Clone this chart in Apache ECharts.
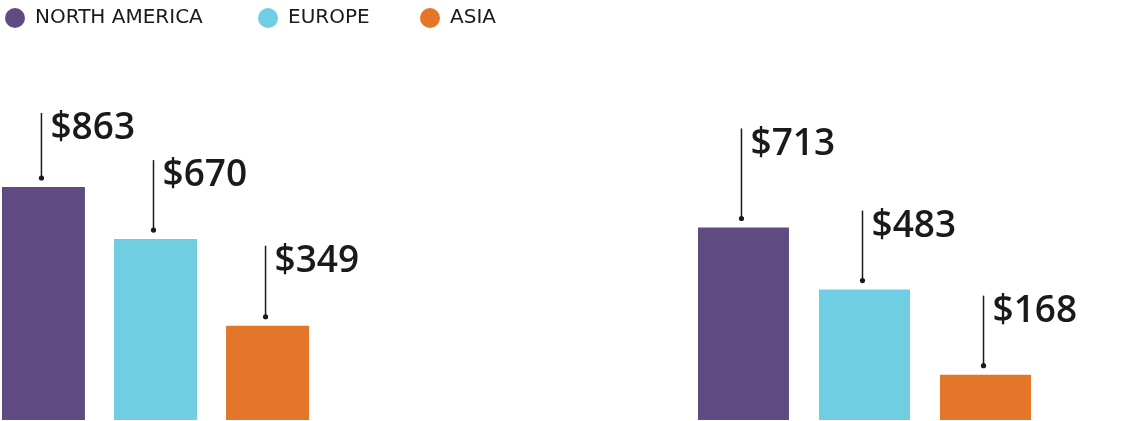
<!DOCTYPE html>
<html>
<head>
<meta charset="utf-8">
<script src="https://cdn.jsdelivr.net/npm/echarts@6/dist/echarts.min.js"></script>
<style>html,body{margin:0;padding:0;background:#fff;}#c{width:1147px;height:421px;}</style>
</head>
<body>
<div id="c"></div>
<script>
// ---- data ----
var regions = ['NORTH AMERICA', 'EUROPE', 'ASIA'];
var group1Values = [863, 670, 349];
var group2Values = [713, 483, 168];

// ---- style ----
var colors = ['#5f4b82', '#6fcee1', '#e37628'];
var ink = '#1a1a1a';
var groups = [
  { values: group1Values, left: 0, width: 311, barW: 83, gapPct: 35, leaders: [65, 70, 71] },
  { values: group2Values, left: 696, width: 337, barW: 91, gapPct: 33, leaders: [90, 70, 70] }
];

var chart = echarts.init(document.getElementById('c'), null, { renderer: 'canvas' });
var grid = [], xAxis = [], yAxis = [], series = [];
groups.forEach(function (g, gi) {
  grid.push({ left: g.left, width: g.width, top: 150, height: 270 });
  xAxis.push({ type: 'category', gridIndex: gi, data: ['g'], show: false });
  yAxis.push({ type: 'value', gridIndex: gi, min: 0, max: 1000, show: false });
  regions.forEach(function (r, ri) {
    series.push({
      type: 'bar', name: r, xAxisIndex: gi, yAxisIndex: gi,
      barWidth: g.barW, barGap: g.gapPct + '%',
      itemStyle: { color: colors[ri] },
      data: [g.values[ri]], animation: false, silent: true
    });
  });
  var step = g.barW * (1 + g.gapPct / 100);
  series.push({
    type: 'custom', xAxisIndex: gi, yAxisIndex: gi, animation: false, silent: true,
    data: g.values.map(function (v, i) { return [0, v, i]; }),
    renderItem: function (params, api) {
      var i = api.value(2);
      var v = api.value(1);
      var pt = api.coord([0, v]);
      var x = pt[0] + (i - 1) * step - 2;
      var yDot = pt[1] - 9;
      var yTop = yDot - g.leaders[i];
      return {
        type: 'group',
        children: [
          { type: 'line', shape: { x1: x, y1: yDot, x2: x, y2: yTop }, style: { stroke: ink, lineWidth: 1.5 } },
          { type: 'circle', shape: { cx: x, cy: yDot, r: 2.6 }, style: { fill: ink } },
          { type: 'text', x: x + 9, y: yTop - 3, style: { text: '$' + v, fill: ink, font: '600 37px "Open Sans"', textAlign: 'left', textVerticalAlign: 'top' } }
        ]
      };
    }
  });
});

var legendLefts = [5, 258, 420];
var legends = regions.map(function (r, ri) {
  return {
    data: [r], left: legendLefts[ri], top: 8, padding: 0, icon: 'circle', itemWidth: 20, itemHeight: 20,
    itemGap: 0, selectedMode: false,
    textStyle: { color: ink, fontFamily: 'DejaVu Sans', fontSize: 20, padding: [0, 0, 0, 5] }
  };
});

chart.setOption({
  animation: false,
  backgroundColor: '#fff',
  legend: legends,
  grid: grid, xAxis: xAxis, yAxis: yAxis, series: series
});
</script>
</body>
</html>
